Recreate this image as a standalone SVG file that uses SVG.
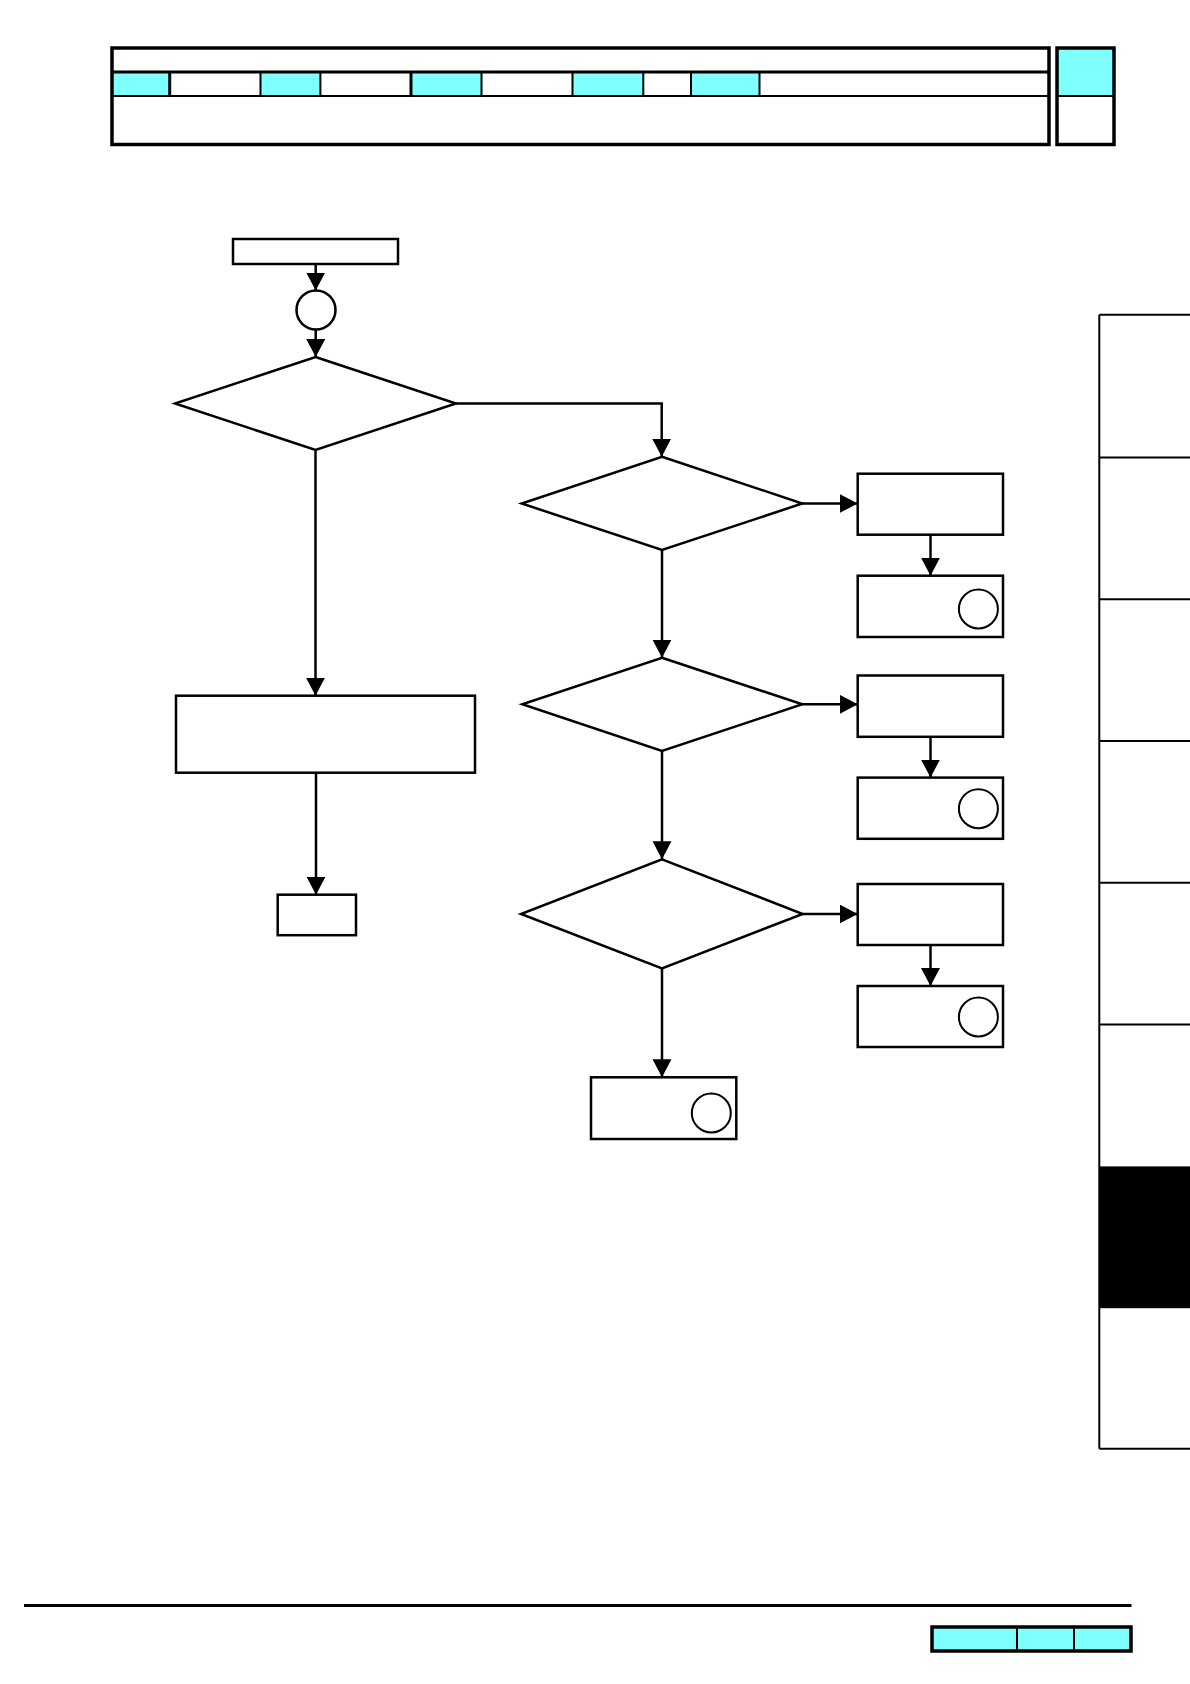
<svg xmlns="http://www.w3.org/2000/svg" width="1190" height="1684" viewBox="0 0 1190 1684">
<style>
.cy{fill:#80ffff}
.hb{fill:none;stroke:#000;stroke-width:3.5}
.hl{stroke:#000;stroke-width:2}
.hk{stroke:#000;stroke-width:3}
.nd{fill:#fff;stroke:#000;stroke-width:2.5}
.cc{fill:#fff;stroke:#000;stroke-width:2}
.cn{fill:none;stroke:#000;stroke-width:2.5}
.sb{stroke:#000;stroke-width:2}
</style>
<defs>
<marker id="ah" markerUnits="userSpaceOnUse" markerWidth="19" markerHeight="20" refX="18" refY="9.5" orient="auto">
<path d="M0,0 L18,9.5 L0,19 z" fill="#000"/>
</marker>
</defs>
<rect width="1190" height="1684" fill="#fff"/>
<g id="header">
<rect class="cy" x="112" y="72" width="57.7" height="24"/>
<rect class="cy" x="260.5" y="72" width="59.9" height="24"/>
<rect class="cy" x="411" y="72" width="70.5" height="24"/>
<rect class="cy" x="572.5" y="72" width="70.8" height="24"/>
<rect class="cy" x="691" y="72" width="68.5" height="24"/>
<line class="hk" x1="112" y1="72" x2="1049" y2="72"/>
<line class="hl" x1="112" y1="96" x2="1049" y2="96"/>
<line class="hk" x1="169.7" y1="72" x2="169.7" y2="96"/>
<line class="hl" x1="260.5" y1="72" x2="260.5" y2="96"/>
<line class="hl" x1="320.4" y1="72" x2="320.4" y2="96"/>
<line class="hk" x1="411" y1="72" x2="411" y2="96"/>
<line class="hl" x1="481.5" y1="72" x2="481.5" y2="96"/>
<line class="hl" x1="572.5" y1="72" x2="572.5" y2="96"/>
<line class="hl" x1="643.3" y1="72" x2="643.3" y2="96"/>
<line class="hl" x1="691" y1="72" x2="691" y2="96"/>
<line class="hl" x1="759.5" y1="72" x2="759.5" y2="96"/>
<rect class="hb" x="112" y="48" width="937" height="96.5"/>
<rect class="cy" x="1057" y="48" width="57" height="48"/>
<line class="hl" x1="1057" y1="96" x2="1114" y2="96"/>
<rect class="hb" x="1057" y="48" width="57" height="96.5"/>
</g>
<g id="sidebar">
<rect x="1099.3" y="1166.4" width="90.7" height="141.8" fill="#000"/>
<line class="sb" x1="1099.3" y1="314.7" x2="1099.3" y2="1448.8"/>
<line class="sb" x1="1099.3" y1="314.7" x2="1190" y2="314.7"/>
<line class="sb" x1="1099.3" y1="457.5" x2="1190" y2="457.5"/>
<line class="sb" x1="1099.3" y1="599.3" x2="1190" y2="599.3"/>
<line class="sb" x1="1099.3" y1="741" x2="1190" y2="741"/>
<line class="sb" x1="1099.3" y1="882.8" x2="1190" y2="882.8"/>
<line class="sb" x1="1099.3" y1="1024.6" x2="1190" y2="1024.6"/>
<line class="sb" x1="1099.3" y1="1448.8" x2="1190" y2="1448.8"/>
</g>
<g id="footer">
<line x1="24" y1="1605.5" x2="1131.5" y2="1605.5" stroke="#000" stroke-width="3"/>
<rect class="cy" x="932" y="1627" width="199" height="24"/>
<line class="hl" x1="1017" y1="1627" x2="1017" y2="1651" stroke-width="1.5"/>
<line class="hl" x1="1074" y1="1627" x2="1074" y2="1651" stroke-width="1.5"/>
<rect class="hb" x="932" y="1627" width="199" height="24" stroke-width="3"/>
</g>
<g id="connectors">
<line class="cn" x1="315.7" y1="264" x2="315.7" y2="290.5" marker-end="url(#ah)"/>
<line class="cn" x1="315.7" y1="329.5" x2="315.7" y2="357" marker-end="url(#ah)"/>
<path class="cn" d="M456,403.5 H661.7 V456.7" marker-end="url(#ah)"/>
<line class="cn" x1="662" y1="550" x2="662" y2="657.7" marker-end="url(#ah)"/>
<line class="cn" x1="662" y1="751" x2="662" y2="859.3" marker-end="url(#ah)"/>
<line class="cn" x1="662" y1="968.3" x2="662" y2="1077.3" marker-end="url(#ah)"/>
<line class="cn" x1="802.3" y1="503.5" x2="857.7" y2="503.5" marker-end="url(#ah)"/>
<line class="cn" x1="802.3" y1="704.3" x2="857.7" y2="704.3" marker-end="url(#ah)"/>
<line class="cn" x1="802.7" y1="914" x2="857.7" y2="914" marker-end="url(#ah)"/>
<line class="cn" x1="930.5" y1="534.7" x2="930.5" y2="575.7" marker-end="url(#ah)"/>
<line class="cn" x1="930.5" y1="736.8" x2="930.5" y2="777.6" marker-end="url(#ah)"/>
<line class="cn" x1="930.5" y1="945" x2="930.5" y2="986" marker-end="url(#ah)"/>
<line class="cn" x1="315.5" y1="450" x2="315.5" y2="695.7" marker-end="url(#ah)"/>
<line class="cn" x1="316" y1="773" x2="316" y2="894.7" marker-end="url(#ah)"/>
</g>
<g id="start"><rect class="nd" x="233" y="239" width="165" height="25"/></g>
<g id="connector-a"><circle class="nd" cx="316" cy="310" r="19.5"/></g>
<g id="decision1"><polygon class="nd" points="315.5,357 456,403.5 315.5,450 175,403.5"/></g>
<g id="decision2"><polygon class="nd" points="662,456.7 802.3,503.5 662,550 521.7,503.5"/></g>
<g id="decision3"><polygon class="nd" points="662,657.7 802.3,704.3 662,751 522.3,704.3"/></g>
<g id="decision4"><polygon class="nd" points="662,859.3 802.7,914 662,968.3 521,914"/></g>
<g id="action1"><rect class="nd" x="857.7" y="473.7" width="145.3" height="61"/></g>
<g id="goto1"><rect class="nd" x="857.7" y="575.7" width="145.3" height="61.3"/><circle class="cc" cx="978.4" cy="609" r="19.5"/></g>
<g id="action2"><rect class="nd" x="857.7" y="675.5" width="145.3" height="61.3"/></g>
<g id="goto2"><rect class="nd" x="857.7" y="777.6" width="145.3" height="61.2"/><circle class="cc" cx="978.4" cy="808.7" r="19.5"/></g>
<g id="action3"><rect class="nd" x="857.7" y="884" width="145.3" height="61"/></g>
<g id="goto3"><rect class="nd" x="857.7" y="986" width="145.3" height="61"/><circle class="cc" cx="978.4" cy="1017" r="19.5"/></g>
<g id="goto4"><rect class="nd" x="591" y="1077.3" width="145.3" height="61.7"/><circle class="cc" cx="711.3" cy="1113" r="19.5"/></g>
<g id="action-left"><rect class="nd" x="176" y="695.7" width="299" height="77"/></g>
<g id="end"><rect class="nd" x="277.7" y="894.7" width="78.3" height="40.5"/></g>
</svg>
